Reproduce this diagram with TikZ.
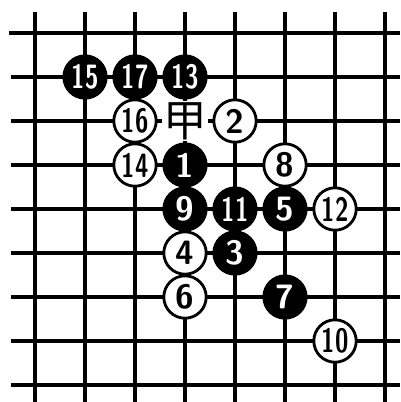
\documentclass[tikz,border=0pt]{standalone}
\usepackage{fontspec}
\usepackage{xcolor}
\newfontfamily\cjk{Noto Sans CJK SC}
\newcommand{\narrownum}[1]{\scalebox{0.72}[1]{#1}}
\definecolor{boardink}{HTML}{000000}

\begin{document}
\begin{tikzpicture}[
  x=1.25cm,
  y=-1.1cm,
  gridline/.style={boardink, line width=3.3pt},
  bstone/.style={circle, fill=boardink, text=white, inner sep=0pt,
                 minimum size=1.13cm, font=\sffamily\bfseries\fontsize{24}{24}\selectfont},
  wstone/.style={circle, draw=boardink, line width=2pt, fill=white, text=boardink,
                 inner sep=0pt, minimum size=1.06cm,
                 font=\sffamily\bfseries\fontsize{24}{24}\selectfont},
  marker/.style={fill=white, inner sep=1pt, text=boardink,
                 font=\cjk\fontsize{31}{31}\selectfont}
]
  \useasboundingbox (-0.7,-0.75) rectangle (7.3,8.386);

  % ---- vertical lines ----
  \draw[gridline] (0,-0.48) -- (0,8.39);
  \draw[gridline] (1,-0.48) -- (1,8.39);
  \draw[gridline] (2,-0.48) -- (2,8.39);
  \draw[gridline] (3,-0.48) -- (3,8.39);
  \draw[gridline] (4,-0.48) -- (4,8.39);
  \draw[gridline] (5,-0.48) -- (5,8.39);
  \draw[gridline] (6,-0.48) -- (6,8.39);
  \draw[gridline] (7,-0.48) -- (7,8.39);

  % ---- horizontal lines ----
  \draw[gridline] (-0.52,0) -- (7.3,0);
  \draw[gridline] (-0.48,1) -- (7.3,1);
  \draw[gridline] (-0.48,2) -- (7.3,2);
  \draw[gridline] (-0.48,3) -- (7.3,3);
  \draw[gridline] (-0.48,4) -- (7.3,4);
  \draw[gridline] (-0.48,5) -- (7.3,5);
  \draw[gridline] (-0.48,6) -- (7.3,6);
  \draw[gridline] (-0.48,7) -- (7.3,7);
  \draw[gridline] (-0.48,8) -- (7.3,8);

  % ---- black stones ----
  \node[bstone] (b15) at (1,1) {\narrownum{15}};
  \node[bstone] (b17) at (2,1) {\narrownum{17}};
  \node[bstone] (b13) at (3,1) {\narrownum{13}};
  \node[bstone] (b1)  at (3,3) {1};
  \node[bstone] (b9)  at (3,4) {9};
  \node[bstone] (b11) at (4,4) {\narrownum{11}};
  \node[bstone] (b5)  at (5,4) {5};
  \node[bstone] (b3)  at (4,5) {3};
  \node[bstone] (b7)  at (5,6) {7};

  % ---- white stones ----
  \node[wstone] (w16) at (2,2) {\narrownum{16}};
  \node[wstone] (w2)  at (4,2) {2};
  \node[wstone] (w14) at (2,3) {\narrownum{14}};
  \node[wstone] (w8)  at (5,3) {8};
  \node[wstone] (w12) at (6,4) {\narrownum{12}};
  \node[wstone] (w4)  at (3,5) {4};
  \node[wstone] (w6)  at (3,6) {6};
  \node[wstone] (w10) at (6,7) {\narrownum{10}};

  % ---- marked point ----
  \node[marker] (jia) at (3,2) {甲};
\end{tikzpicture}
\end{document}
